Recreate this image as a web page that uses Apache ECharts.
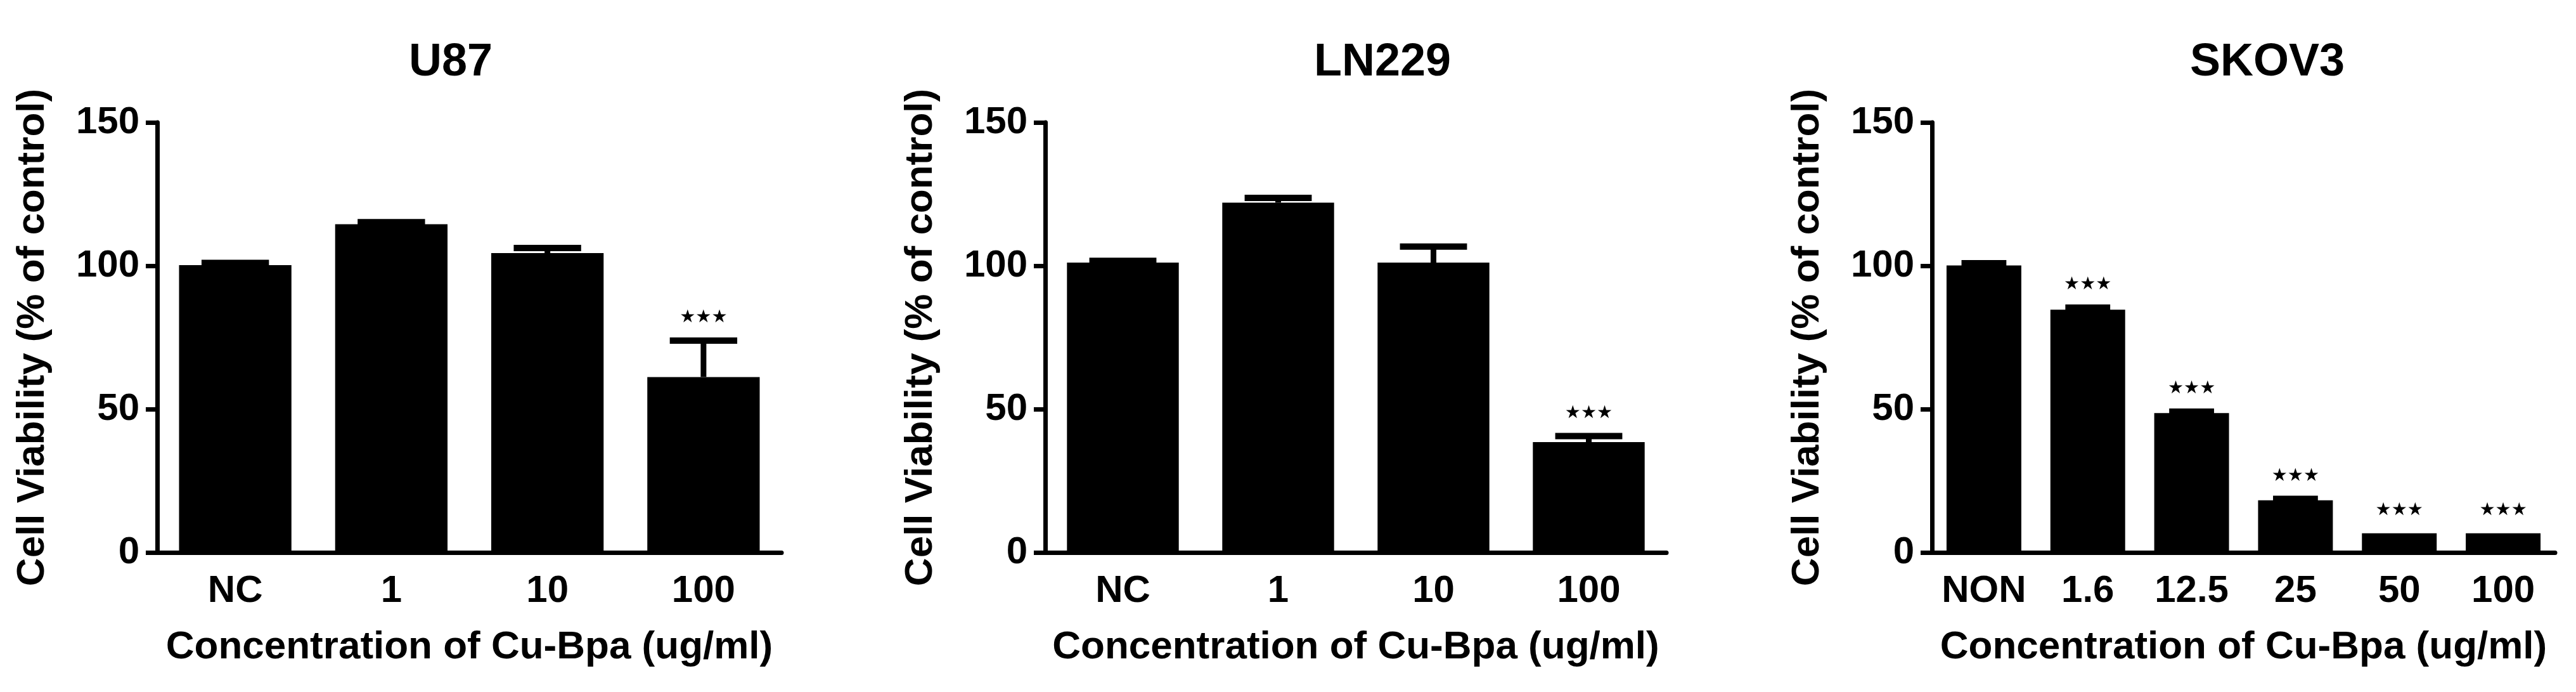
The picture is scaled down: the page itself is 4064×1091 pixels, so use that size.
<!DOCTYPE html>
<html>
<head>
<meta charset="utf-8">
<title>Cell viability</title>
<script src="https://cdn.jsdelivr.net/npm/echarts@6/dist/echarts.min.js"></script>
<style>
	html, body { margin: 0; padding: 0; background: #fff; }
	#chart { width: 4064px; height: 1091px; }
</style>
</head>
<body>
<div id="chart"></div>
<script>
// data
const doseCats = ['NC', '1', '10', '100'];
const u87Values = [100.2, 114.5, 104.4, 61.2];
const u87Errors = [0.8, 0.7, 1.8, 12.7];
const u87Sig = ['', '', '', '***'];

const ln229Values = [101.1, 122.0, 101.1, 38.5];
const ln229Errors = [0.6, 1.7, 5.6, 2.1];
const ln229Sig = ['', '', '', '***'];

const skov3Cats = ['NON', '1.6', '12.5', '25', '50', '100'];
const skov3Values = [100.1, 84.7, 48.6, 18.2, 6.7, 6.7];
const skov3Errors = [0.8, 0.7, 0.5, 0.5, 0, 0];
const skov3Sig = ['', '***', '***', '***', '***', '***'];

const yTicks = { min: 0, max: 150, interval: 50 };

const FONT = '"Liberation Sans", Arial, sans-serif';

const panels = [
	{ title: 'U87', titleX: 706, left: 248, width: 985, cats: doseCats, values: u87Values, errors: u87Errors, sig: u87Sig },
	{ title: 'LN229', titleX: 2176, left: 1649, width: 980, cats: doseCats, values: ln229Values, errors: ln229Errors, sig: ln229Sig },
	{ title: 'SKOV3', titleX: 3572, left: 3048, width: 983, cats: skov3Cats, values: skov3Values, errors: skov3Errors, sig: skov3Sig }
];

// error bar + significance stars
function renderError(params, api) {
	const idx = api.value(0);
	const val = api.value(1);
	const err = api.value(2);
	const sig = params.context.sig[params.dataIndex];
	const x = api.coord([idx, val])[0];
	const yBar = api.coord([idx, val])[1];
	const yTop = api.coord([idx, val + err])[1];
	const barW = api.size([1, 0])[0] * 0.72;
	const capW = barW * 0.6;
	const children = [];
	if (err > 0) {
		children.push({
			type: 'line',
			shape: { x1: x, y1: yBar, x2: x, y2: yTop },
			style: { stroke: '#000', lineWidth: 9 }
		});
		children.push({
			type: 'line',
			shape: { x1: x - capW / 2, y1: yTop, x2: x + capW / 2, y2: yTop },
			style: { stroke: '#000', lineWidth: 10 }
		});
	}
	if (sig) {
		children.push({
			type: 'text',
			style: {
				text: sig.replace(/\*/g, '\u2605'),
				x: x,
				y: yTop - 36,
				align: 'center',
				verticalAlign: 'middle',
				font: '28px "DejaVu Sans"',
				fill: '#000'
			}
		});
	}
	return { type: 'group', children: children };
}

let option = {
	animation: false,
	backgroundColor: '#fff',
	title: [],
	grid: [],
	xAxis: [],
	yAxis: [],
	series: []
};

panels.forEach((p, i) => {
	option.title.push({
		text: p.title,
		left: p.titleX,
		top: 58,
		textAlign: 'center',
		textStyle: { fontFamily: FONT, fontWeight: 'bold', fontSize: 72, color: '#000' }
	});
	option.grid.push({ left: p.left, width: p.width, top: 193, height: 678 });
	option.xAxis.push({
		type: 'category',
		gridIndex: i,
		data: p.cats,
		name: 'Concentration of Cu-Bpa (ug/ml)',
		nameLocation: 'middle',
		nameGap: 119,
		nameTextStyle: { fontFamily: FONT, fontWeight: 'bold', fontSize: 62, color: '#000' },
		axisLine: { lineStyle: { color: '#000', width: 7 } },
		axisTick: { alignWithLabel: true, length: 20, lineStyle: { color: '#000', width: 7 } },
		axisLabel: { interval: 0, margin: 31, fontFamily: FONT, fontWeight: 'bold', fontSize: 60, color: '#000' },
		splitLine: { show: false }
	});
	option.yAxis.push({
		type: 'value',
		gridIndex: i,
		min: yTicks.min,
		max: yTicks.max,
		interval: yTicks.interval,
		name: 'Cell Viability (% of control)',
		nameLocation: 'middle',
		nameRotate: 90,
		nameGap: 165,
		nameTextStyle: { fontFamily: FONT, fontWeight: 'bold', fontSize: 62, color: '#000' },
		axisLine: { show: true, lineStyle: { color: '#000', width: 7 } },
		axisTick: { show: true, length: 18, lineStyle: { color: '#000', width: 7 } },
		axisLabel: { margin: 28, fontFamily: FONT, fontWeight: 'bold', fontSize: 60, color: '#000' },
		splitLine: { show: false }
	});
	option.series.push({
		type: 'bar',
		xAxisIndex: i,
		yAxisIndex: i,
		data: p.values,
		barCategoryGap: '28%',
		itemStyle: { color: '#000' }
	});
	option.series.push({
		type: 'custom',
		xAxisIndex: i,
		yAxisIndex: i,
		z: 3,
		renderItem: (params, api) => {
			params.context.sig = p.sig;
			return renderError(params, api);
		},
		data: p.values.map((v, k) => [k, v, p.errors[k]])
	});
});

const myChart = echarts.init(document.getElementById('chart'));
myChart.setOption(option);
</script>
</body>
</html>
